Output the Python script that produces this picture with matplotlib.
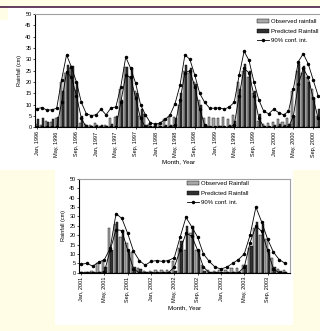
import matplotlib
matplotlib.use("Agg")
import matplotlib.pyplot as plt
import numpy as np
from matplotlib.patches import Rectangle
from matplotlib.lines import Line2D

plt.rcParams['font.family'] = ['Liberation Sans', 'DejaVu Sans']

# top panel, monthly rainfall (cm), Jan 1996 - Oct 2000
obs_top = [1.5, 1.0, 3.0, 2.5, 4.0, 20.0, 24.0, 26.0, 16.5, 2.0, 1.5, 1.0,
           2.0, 0.5, 1.0, 4.0, 4.5, 17.0, 26.5, 22.0, 16.0, 5.0, 6.0, 1.5,
           0.5, 1.5, 3.5, 4.5, 4.5, 10.0, 25.0, 24.0, 20.0, 12.0, 4.0, 4.5,
           4.0, 4.0, 4.5, 3.5, 5.5, 20.0, 25.0, 22.0, 15.0, 3.0, 1.5, 2.0,
           2.5, 3.5, 2.5, 4.0, 16.0, 25.0, 24.0, 22.0, 17.0, 5.0]
pred_top = [3.5, 4.0, 2.5, 3.5, 4.5, 16.0, 27.5, 27.0, 19.5, 5.0, 1.0, 0.5,
            1.0, 1.0, 0.5, 1.5, 5.0, 12.0, 26.5, 26.0, 15.0, 8.0, 1.0, 0.5,
            0.3, 0.5, 1.0, 1.0, 4.0, 15.0, 27.5, 26.0, 19.0, 10.0, 1.0, 0.3,
            0.3, 0.5, 0.3, 1.0, 3.0, 17.0, 28.0, 25.0, 16.0, 6.0, 0.5, 0.3,
            1.0, 1.5, 1.0, 1.5, 5.0, 28.0, 27.0, 20.0, 13.0, 8.0]
upper_top = [8.2, 8.7, 7.6, 7.7, 8.4, 21.0, 32.0, 26.5, 20.0, 11.0, 6.0, 5.2,
             5.5, 8.0, 5.5, 8.5, 9.0, 18.0, 31.0, 26.0, 19.5, 10.0, 5.5, 2.0,
             1.3, 2.0, 3.5, 5.5, 10.5, 18.5, 32.0, 30.0, 23.0, 15.0, 11.0, 8.5,
             8.4, 8.6, 8.0, 9.0, 11.0, 23.0, 33.5, 29.5, 20.0, 12.0, 7.0, 6.0,
             8.0, 6.5, 5.5, 7.0, 17.0, 29.0, 32.5, 28.0, 21.0, 14.0]
lower_top = [0, 0, 0, 0, 0, 11.0, 24.5, 22.0, 14.0, 4.0, 0, 0,
             0, 0, 0, 0, 0, 11.0, 23.0, 22.0, 13.0, 4.0, 0, 0,
             0, 0, 0, 0, 1.0, 12.0, 24.0, 25.0, 18.0, 8.0, 1.0, 0,
             0, 0, 0, 0, 1.0, 14.0, 26.0, 24.0, 14.0, 4.0, 0, 0,
             0, 0, 0, 0, 5.0, 19.0, 26.0, 22.0, 13.0, 4.0]
ticks_top = ["Jan, 1996", "May, 1996", "Sep, 1996", "Jan, 1997", "May, 1997",
             "Sep, 1997", "Jan, 1998", "May, 1998", "Sep, 1998", "Jan, 1999",
             "May, 1999", "Sep, 1999", "Jan, 2000", "May, 2000", "Sep, 2000"]
legend_top = ["Observed rainfall", "Predicted Rainfall", "90% conf. int."]

# bottom panel, Jan 2001 - Dec 2003
obs_bot = [0.3, 0.5, 1.0, 5.0, 6.5, 24.0, 26.0, 19.0, 16.0, 11.0, 2.5, 1.0,
           1.0, 1.5, 1.5, 1.5, 6.0, 13.0, 12.0, 21.0, 12.0, 4.0, 1.5, 1.0,
           1.5, 1.5, 2.5, 2.5, 4.0, 13.0, 24.0, 20.0, 18.0, 8.0, 2.0, 1.5]
pred_bot = [0.2, 0.2, 0.3, 0.5, 3.0, 12.0, 27.0, 23.0, 11.0, 3.0, 2.0, 0.2,
            0.5, 0.3, 0.2, 0.3, 1.0, 17.0, 25.0, 25.0, 12.0, 1.0, 0.2, 0.2,
            0.2, 0.2, 0.3, 0.5, 4.0, 14.0, 27.0, 26.0, 11.0, 3.0, 1.0, 0.5]
upper_bot = [4.5, 5.0, 3.5, 5.5, 7.0, 13.0, 31.5, 29.0, 21.0, 11.5, 6.5, 4.0,
             6.0, 6.5, 6.0, 6.5, 8.0, 19.0, 29.5, 24.5, 19.0, 10.0, 6.0, 3.0,
             2.0, 3.0, 5.0, 7.0, 10.0, 20.0, 35.0, 27.0, 18.0, 11.0, 7.0, 5.0]
lower_bot = [0, 0, 0, 0, 0.5, 12.0, 23.0, 22.5, 12.0, 2.0, 0, 0,
             0, 0, 0, 0, 3.0, 12.0, 21.0, 19.5, 12.0, 3.0, 0, 0,
             0, 0, 0, 0, 3.0, 16.0, 25.0, 22.0, 12.0, 2.0, 0, 0]
ticks_bot = ["Jan, 2001", "May, 2001", "Sep, 2001", "Jan, 2002", "May, 2002",
             "Sep, 2002", "Jan, 2003", "May, 2003", "Sep, 2003"]
legend_bot = ["Observed Rainfall", "Predicted Rainfall", "90% conf. int."]

CREAM = '#fffde6'
FS = 4


def draw_panel(ax, obs, pred, upper, lower, ticks, labels):
    x = np.arange(len(obs))
    w = 0.42
    b1 = ax.bar(x - w / 2, obs, w, color='#a8a8a8', edgecolor='black', linewidth=0.3)
    b2 = ax.bar(x + w / 2, pred, w, color='#303030', edgecolor='black', linewidth=0.3)
    l1, = ax.plot(x, upper, color='black', lw=0.6, marker='o', ms=1.5)
    ax.plot(x, lower, color='black', lw=0.6, marker='o', ms=1.5)
    ax.set_ylim(0, 50)
    ax.set_yticks(range(0, 51, 5))
    ax.set_xticks(x[::4][:len(ticks)])
    ax.set_xticklabels(ticks, rotation=90)
    ax.tick_params(axis='y', labelsize=FS, length=1.5, width=0.5, pad=1)
    ax.tick_params(axis='x', labelsize=FS, length=1.5, width=0.5, pad=1.5)
    for s in ['left', 'bottom']:
        ax.spines[s].set_linewidth(0.8)
    for s in ['top', 'right']:
        ax.spines[s].set_color('#a0a0a0')
        ax.spines[s].set_linewidth(0.8)
    ax.set_ylabel('Rainfall (cm)', fontsize=FS, labelpad=2)
    ax.set_xlabel('Month, Year', fontsize=4.5, labelpad=2)
    ax.set_facecolor('white')
    return [b1, b2, l1]


fig = plt.figure(figsize=(3.2, 3.31), dpi=100, facecolor=CREAM)

# page background pieces
fig.add_artist(Rectangle((0, 1 - 170 / 331), 1, (170 - 7) / 331, transform=fig.transFigure,
                         facecolor='white', edgecolor='none', zorder=-2))
fig.add_artist(Rectangle((55 / 320, 1 - 325 / 331), 238 / 320, 155 / 331, transform=fig.transFigure,
                         facecolor='white', edgecolor='none', zorder=-2))
fig.add_artist(Rectangle((0, 1 - 20 / 331), 8 / 320, 13 / 331, transform=fig.transFigure,
                         facecolor=CREAM, edgecolor='none', zorder=-1))
fig.add_artist(Line2D([0, 1], [1 - 6.5 / 331] * 2, transform=fig.transFigure,
                      color='#4a1c46', lw=1.2))

ax1 = fig.add_axes([35 / 320, 1 - 127.3 / 331, 288 / 320, 113.3 / 331])
h1 = draw_panel(ax1, obs_top, pred_top, upper_top, lower_top, ticks_top, legend_top)
ax1.set_xlim(-0.4, 58.0)
ax1.legend(h1, legend_top, loc='upper left', bbox_to_anchor=(257 / 320, 1 - 19 / 331),
           bbox_transform=fig.transFigure, frameon=False, fontsize=4.3, borderpad=0,
           borderaxespad=0, handlelength=2.0, handletextpad=0.3, labelspacing=0.75)

ax2 = fig.add_axes([79 / 320, 1 - 272.7 / 331, 211 / 320, 93.7 / 331])
h2 = draw_panel(ax2, obs_bot, pred_bot, upper_bot, lower_bot, ticks_bot, legend_bot)
ax2.set_xlim(-0.35, 35.85)
ax2.legend(h2, legend_bot, loc='upper left', bbox_to_anchor=(187 / 320, 1 - 181 / 331),
           bbox_transform=fig.transFigure, frameon=False, fontsize=4.3, borderpad=0,
           borderaxespad=0, handlelength=2.0, handletextpad=0.3, labelspacing=0.75)

fig.savefig('out.png', dpi=100, facecolor=CREAM)
